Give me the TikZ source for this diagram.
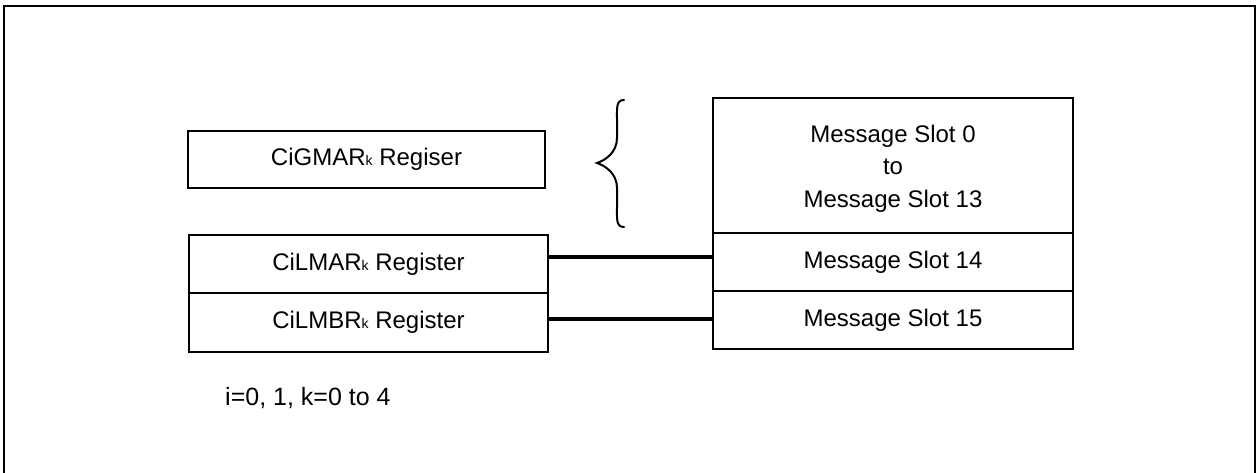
\documentclass[tikz,border=0pt]{standalone}
\usepackage{fontspec}
\setmainfont{Liberation Sans}
\newcommand{\subk}{{\fontsize{14}{14}\selectfont k}}
\begin{document}
\begin{tikzpicture}[x=1pt,y=-1pt,
  box/.style={draw, line width=2pt, inner sep=0pt, font=\fontsize{24}{32.5}\selectfont, align=center},
  link/.style={line width=3.8pt},
  frame/.style={line width=2.5pt},
  bracestyle/.style={line width=2pt, line cap=round}]
\useasboundingbox (0,0) rectangle (1257,472);
\clip (0,0) rectangle (1257,472);
\draw[frame] (4,6) rectangle (1255,495);
% left registers
\node[box, minimum width=357pt, minimum height=57pt] (gmar) at (366.5,159.5) {CiGMAR\subk{} Regiser};
\node[box, minimum width=359pt, minimum height=58pt] (lmar) at (368.5,264) {CiLMAR\subk{} Register};
\node[box, minimum width=359pt, minimum height=59pt] (lmbr) at (368.5,322.5) {CiLMBR\subk{} Register};
% message slots
\node[box, minimum width=360pt, minimum height=135pt] (top) at (893,165.5) {\rule{0pt}{23.5pt}Message Slot 0\\to\\Message Slot 13};
\node[box, minimum width=360pt, minimum height=58pt] (s14) at (893,262) {Message Slot 14};
\node[box, minimum width=360pt, minimum height=58pt] (s15) at (893,320) {Message Slot 15};
% connectors
\draw[link] ([yshift=7pt]lmar.east) -- ([yshift=7pt]lmar.east -| s14.west);
\draw[link] ([yshift=3.5pt]lmbr.east) -- ([yshift=3.5pt]lmbr.east -| s15.west);
% brace
\draw[bracestyle] (624,100) .. controls (616,100) and (617,108) .. (617,120) -- (617,138)
  .. controls (617,152) and (606,160) .. (597,163)
  .. controls (606,166) and (617,174) .. (617,188) -- (617,207)
  .. controls (617,219) and (616,227) .. (624,227);
% note
\node[anchor=base west, inner sep=0pt, font=\fontsize{25}{30}\selectfont] (note) at (225,405) {i=0, 1, k=0 to 4};
\end{tikzpicture}
\end{document}
